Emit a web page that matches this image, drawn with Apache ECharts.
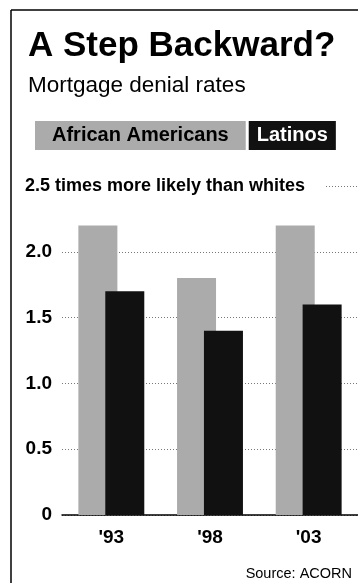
<!DOCTYPE html>
<html>
<head>
<meta charset="utf-8">
<script src="https://cdn.jsdelivr.net/npm/echarts@6/dist/echarts.min.js"></script>
<style>
html,body{margin:0;padding:0;background:#fff;}
#chart{width:358px;height:583px;}
</style>
</head>
<body>
<div id="chart"></div>
<script>
var categories = ["'93", "'98", "'03"];
var africanAmericans = [2.2, 1.8, 2.2];
var latinos = [1.7, 1.4, 1.6];
var yTicks = [0, 0.5, 1.0, 1.5, 2.0, 2.5];
var seriesNames = ['African Americans', 'Latinos'];
var titleText = 'A Step Backward?';
var subtitleText = 'Mortgage denial rates';
var axisNote = '2.5 times more likely than whites';
var sourceText = 'Source: ACORN';

var SANS = '"Liberation Sans", Arial, sans-serif';
var GRAY = '#ababab';
var BLACK = '#111111';

var chart = echarts.init(document.getElementById('chart'), null, {renderer: 'canvas'});
chart.setOption({
  backgroundColor: '#ffffff',
  animation: false,
  title: [
    {text: titleText, left: 23, top: 24,
     textStyle: {fontFamily: SANS, fontWeight: 'bold', fontSize: 35, color: '#000'}},
    {text: subtitleText, left: 23, top: 69,
     textStyle: {fontFamily: SANS, fontWeight: 'normal', fontSize: 22.5, color: '#000'}},
    {text: axisNote, left: 22, top: 176, z: 20, zlevel: 1,
     backgroundColor: '#ffffff', padding: [1, 20, 1, 3],
     textStyle: {fontFamily: SANS, fontWeight: 'bold', fontSize: 18, color: '#000'}},
    {text: sourceText, right: 1, top: 561,
     textStyle: {fontFamily: SANS, fontWeight: 'normal', fontSize: 14.5, color: '#000'}}
  ],
  legend: {
    left: 30, top: 121, width: 340, itemWidth: 0, itemHeight: 0, itemGap: -2,
    selectedMode: false, padding: 0,
    data: [
      {name: seriesNames[0], icon: 'rect',
       textStyle: {fontFamily: SANS, fontWeight: 'bold', fontSize: 20, color: '#000',
                   backgroundColor: GRAY, padding: [6, 17, 3, 17]}},
      {name: seriesNames[1], icon: 'rect',
       textStyle: {fontFamily: SANS, fontWeight: 'bold', fontSize: 20, color: '#fff',
                   backgroundColor: BLACK, padding: [6, 8, 3, 8]}}
    ]
  },
  grid: {left: 62, right: 0, top: 186, bottom: 68, containLabel: false},
  xAxis: {
    type: 'category', data: categories,
    axisLine: {lineStyle: {color: '#000', width: 1.5}},
    axisTick: {show: false},
    axisLabel: {fontFamily: SANS, fontWeight: 'bold', fontSize: 19, color: '#000', margin: 13}
  },
  yAxis: {
    type: 'value', min: 0, max: 2.5, interval: 0.5,
    axisLine: {show: false}, axisTick: {show: false},
    axisLabel: {fontFamily: SANS, fontWeight: 'bold', fontSize: 19, color: '#000', margin: 10,
      formatter: function (v) { if (v >= 2.5) return ''; return v === 0 ? '0' : v.toFixed(1); }},
    splitLine: {lineStyle: {color: '#777', type: [1, 2], width: 1}}
  },
  series: [
    {name: seriesNames[0], type: 'bar', data: africanAmericans, barWidth: 39, barGap: '-31%',
     itemStyle: {color: GRAY}},
    {name: seriesNames[1], type: 'bar', data: latinos, barWidth: 39, barGap: '-31%',
     itemStyle: {color: BLACK}}
  ],
  graphic: [
    {type: 'line', shape: {x1: 11, y1: 10, x2: 358, y2: 10}, style: {stroke: '#000', lineWidth: 1.5}},
    {type: 'line', shape: {x1: 11, y1: 10, x2: 11, y2: 583}, style: {stroke: '#000', lineWidth: 1.5}}
  ]
});
</script>
</body>
</html>
